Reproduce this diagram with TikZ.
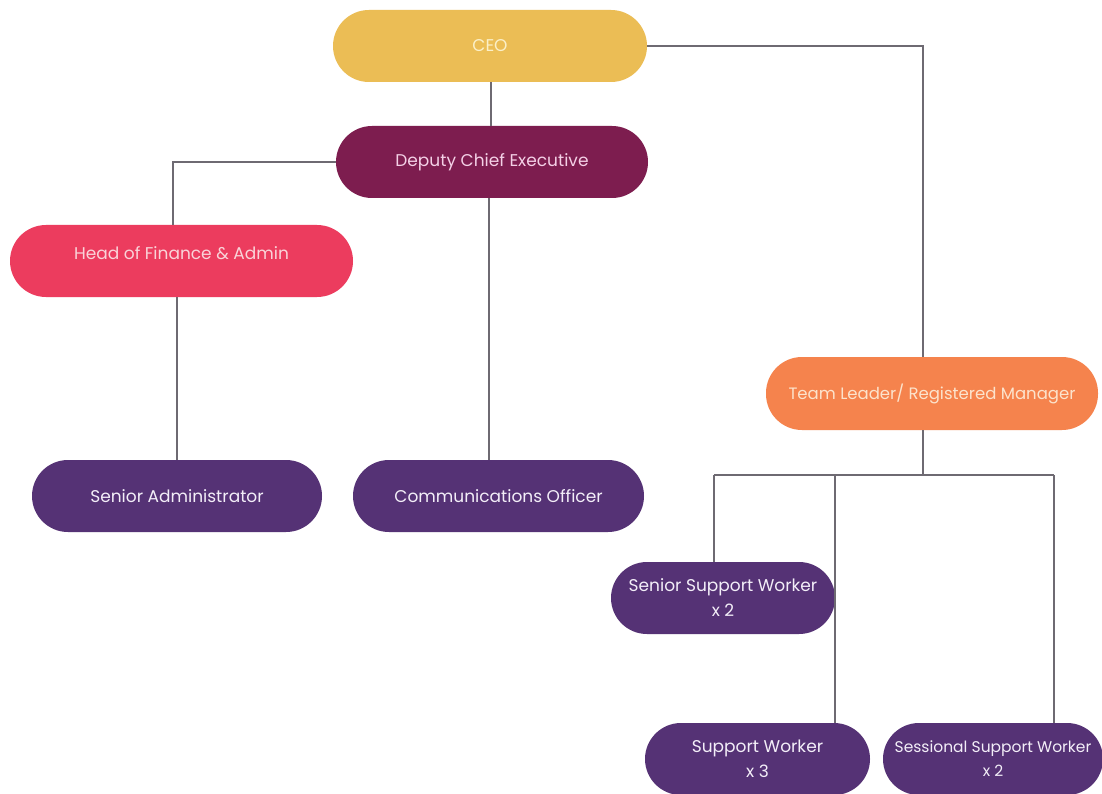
\documentclass[tikz,border=0pt]{standalone}
\usepackage{fontspec}
\setmainfont{Poppins}
\usetikzlibrary{calc}
\definecolor{ceoC}{HTML}{EBBD55}
\definecolor{ceoT}{HTML}{FBF0C8}
\definecolor{dceC}{HTML}{7D1D4F}
\definecolor{dceT}{HTML}{F4D0E6}
\definecolor{hfaC}{HTML}{EC3C5E}
\definecolor{hfaT}{HTML}{F9D3D8}
\definecolor{tlC}{HTML}{F5834D}
\definecolor{tlT}{HTML}{FCE3CC}
\definecolor{purC}{HTML}{553275}
\definecolor{purT}{HTML}{F3EEF8}
\definecolor{lineC}{HTML}{6E6A72}
\begin{document}
\begin{tikzpicture}[x=1pt,y=-1pt,
  pill/.style={rectangle, rounded corners=36pt, minimum height=72pt, inner sep=0pt, align=center, font=\fontsize{17}{25}\selectfont},
  conn/.style={draw=lineC, line width=1.2pt},
]
\useasboundingbox (0,0) rectangle (1102,794);
\clip (0,0) rectangle (1102,794);
\fill[white] (0,0) rectangle (1102,794);

\node[pill, fill=ceoC, text=ceoT, minimum width=314pt] (ceo) at (490,46) {CEO};
\node[pill, fill=dceC, text=dceT, minimum width=312pt] (dce) at (492,162) {Deputy Chief Executive};
\node[pill, fill=hfaC, text=hfaT, minimum width=343pt] (hfa) at (181.5,261) {\raisebox{16pt}{Head of Finance \& Admin}};
\node[pill, fill=purC, text=purT, minimum width=290pt] (sa) at (177,496) {Senior Administrator};
\node[pill, fill=purC, text=purT, minimum width=291pt] (co) at (498.5,496) {Communications Officer};
\node[pill, fill=tlC, text=tlT, minimum width=332pt, minimum height=73pt, font=\fontsize{16.5}{25}\selectfont] (tl) at (932,393.5) {Team Leader/ Registered Manager};
\node[pill, fill=purC, text=purT, minimum width=224pt] (ssw) at (723,598) {Senior Support Worker\\x 2};
\node[pill, fill=purC, text=purT, minimum width=225pt] (sw) at (757.5,759) {Support Worker\\x 3};
\node[pill, fill=purC, text=purT, minimum width=220pt, font=\fontsize{15.5}{24}\selectfont] (sess) at (993,759) {Sessional Support Worker\\x 2};

\coordinate (ceoR) at (923,46);
\coordinate (bus) at (923,475);
\coordinate (jl) at (714,475);
\coordinate (jm) at (835,475);
\coordinate (jr) at (1054,475);
\coordinate (hfaTop) at (173,162);
\coordinate (dceB) at (489,198);

\draw[conn] (ceo.south) ++(1,0) -- ($(dce.north)+(-1,0)$);
\draw[conn] (dce.west) -- (hfaTop) -- (hfaTop |- hfa.north);
\draw[conn] (dceB) -- (dceB |- co.north);
\draw[conn] (sa.north |- hfa.south) -- (sa.north);
\draw[conn] (ceo.east) -- (ceoR) -- (ceoR |- tl.north);
\draw[conn] (bus |- tl.south) -- (bus);
\draw[conn] (jl) -- (jr);
\draw[conn] (jl) -- (jl |- ssw.north);
\draw[conn] (jm) -- (jm |- sw.north);
\draw[conn] (jr) -- (jr |- sess.north);
\end{tikzpicture}
\end{document}
